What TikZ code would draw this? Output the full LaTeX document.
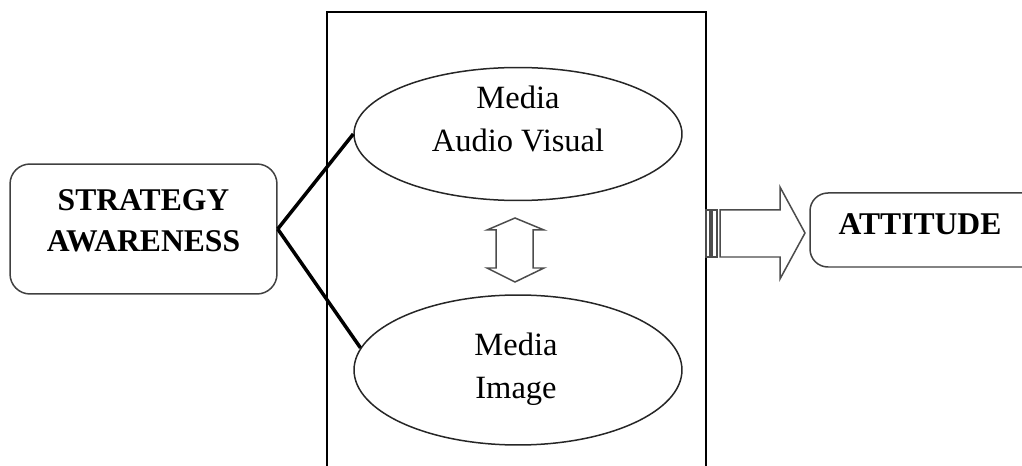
\documentclass[tikz,border=0pt]{standalone}
\usepackage{fontspec}
\setmainfont{Liberation Serif}
\usepackage{tikz}
\usetikzlibrary{shapes.geometric}

\begin{document}
\begin{tikzpicture}[x=0.02cm, y=-0.02cm,
		mediaoval/.style={draw, ellipse, color=black!85, line width=0.3mm, inner sep=0, minimum width=6.56cm},
		mediatext/.style={align=center, font=\fontsize{18.5}{24.4}\selectfont},
		boldtext/.style={align=center, font=\fontsize{18}{23.3}\selectfont\bfseries},
		outline/.style={line width=0.3mm, color=black!70}]
			%%%%% START %%%%%
			\useasboundingbox (0, 0) rectangle (1022, 466);
			
			\draw[line width=0.4mm, color=black] (327, 466) -- (327, 12) -- (706, 12) -- (706, 466);
			
			\node[draw, color=black!75, line width=0.3mm, rounded corners=0.4cm, minimum width=5.34cm, minimum height=2.6cm] (sa) at (143.5, 229) {};
			\node[boldtext] (satext) at (143.5, 221) {STRATEGY\\AWARENESS};
			
			\node[mediaoval, minimum height=2.66cm] (av) at (518, 134) {};
			\node[mediatext] (avtext) at (518, 119) {Media\\Audio Visual};
			\node[mediaoval, minimum height=3cm] (mi) at (518, 370) {};
			\node[mediatext] (mitext) at (516, 369) {Media\\Image};
			
			\draw[line width=0.7mm] (sa.east) -- (av.west);
			\draw[line width=0.7mm] (sa.east) -- (mi.172);
			
			\draw[outline, fill=white] (515, 218) -- (544, 230) -- (533, 230) -- (533, 268) -- (544, 268) -- (515, 282) -- (487, 268) -- (496, 268) -- (496, 230) -- (487, 230) -- cycle;
			
			\draw[outline] (706, 210) rectangle (710, 257);
			\draw[outline] (712, 210) rectangle (717, 257);
			\draw[outline, fill=white] (720, 210) -- (780, 210) -- (780, 187) -- (805, 233) -- (780, 279) -- (780, 257) -- (720, 257) -- cycle;
			
			\draw[line width=0.3mm, color=black!75, rounded corners=0.36cm] (1022, 193) -- (810, 193) -- (810, 267) -- (1022, 267);
			\node[boldtext] (att) at (920, 224) {ATTITUDE};
			%%%%% END %%%%%
\end{tikzpicture}
\end{document}
